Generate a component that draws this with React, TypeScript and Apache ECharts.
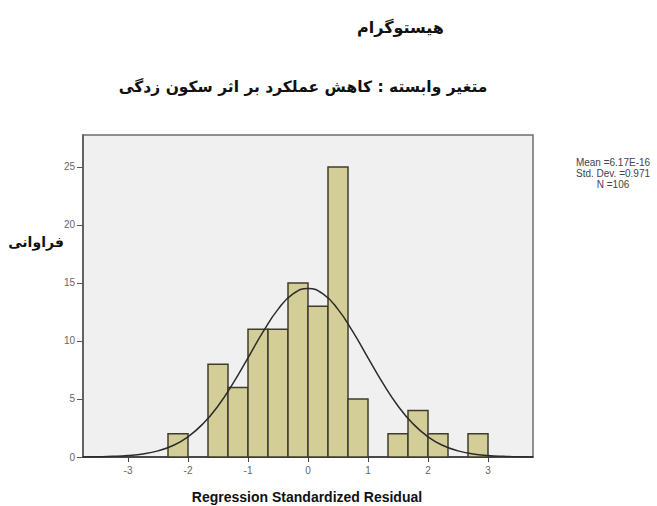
import React, { useEffect, useRef } from "react";
import * as echarts from "echarts";

const titleText = "هیستوگرام";
const subtitleText = "متغیر وابسته : کاهش عملکرد بر اثر سکون زدگی";
const yAxisName = "فراوانی";
const xAxisName = "Regression Standardized Residual";
const statsLines = ["Mean =6.17E-16", "Std. Dev. =0.971", "N =106"];

// histogram bins (lower edge) and counts
const binWidth = 1 / 3;
const binLow = [-7 / 3, -5 / 3, -4 / 3, -1, -2 / 3, -1 / 3, 0, 1 / 3, 2 / 3, 4 / 3, 5 / 3, 2, 8 / 3];
const counts = [2, 8, 6, 11, 11, 15, 13, 25, 5, 2, 4, 2, 2];

// normal curve
const curveX = [-3.75, -3.5, -3.25, -3, -2.75, -2.5, -2.25, -2, -1.75, -1.5, -1.25, -1, -0.75, -0.5, -0.25, 0, 0.25, 0.5, 0.75, 1, 1.25, 1.5, 1.75, 2, 2.25, 2.5, 2.75, 3, 3.25, 3.5, 3.75];
const curveY = [0.008, 0.022, 0.054, 0.123, 0.26, 0.53, 0.99, 1.74, 2.86, 4.4, 6.34, 8.54, 10.78, 12.72, 14.05, 14.52, 14.05, 12.72, 10.78, 8.54, 6.34, 4.4, 2.86, 1.74, 0.99, 0.53, 0.26, 0.123, 0.054, 0.022, 0.008];

const xTicks = [-3, -2, -1, 0, 1, 2, 3];
const yTicks = [0, 5, 10, 15, 20, 25];

export default function App() {
  const ref = useRef<HTMLDivElement>(null);
  useEffect(() => {
    if (!ref.current) return;
    const chart = echarts.init(ref.current, null, { renderer: "svg" });
    const barData = binLow.map((lo, i) => [lo, lo + binWidth, counts[i]]);
    const curveData = curveX.map((x, i) => [x, curveY[i]]);
    chart.setOption({
      animation: false,
      backgroundColor: "#ffffff",
      grid: {
        left: 83,
        right: 124,
        top: 135,
        bottom: 49,
        show: true,
        backgroundColor: "#f0f0f0",
        borderColor: "#6e6e6e",
        borderWidth: 1.5,
      },
      xAxis: {
        type: "value",
        min: -3.75,
        max: 3.75,
        splitLine: { show: false },
        axisLine: { show: true, onZero: false, lineStyle: { color: "#333", width: 1.5 } },
        axisTick: { show: true, length: 5, customValues: xTicks, lineStyle: { color: "#444" } },
        axisLabel: { customValues: xTicks, color: "#666", fontSize: 10, fontFamily: "Arial, 'Liberation Sans'", margin: 8 },
      },
      yAxis: {
        type: "value",
        min: 0,
        max: 27.75,
        splitLine: { show: false },
        axisLine: { show: true, onZero: false, lineStyle: { color: "#555", width: 1.5 } },
        axisTick: { show: true, length: 6, customValues: yTicks, lineStyle: { color: "#555" } },
        axisLabel: { customValues: yTicks, color: "#666", fontSize: 10, fontFamily: "Arial, 'Liberation Sans'", margin: 8 },
      },
      series: [
        {
          type: "custom",
          data: barData,
          encode: { x: [0, 1], y: 2 },
          renderItem: (params: any, api: any) => {
            const p0 = api.coord([api.value(0), 0]);
            const p1 = api.coord([api.value(1), api.value(2)]);
            return {
              type: "rect",
              shape: { x: p0[0], y: p1[1], width: p1[0] - p0[0], height: p0[1] - p1[1] },
              style: { fill: "#d3cd97", stroke: "#3e3d2c", lineWidth: 1.5 },
            };
          },
          z: 2,
        },
        {
          type: "line",
          data: curveData,
          smooth: true,
          showSymbol: false,
          lineStyle: { color: "#2b2b2b", width: 1.5 },
          z: 3,
        },
      ],
      graphic: [
        {
          type: "text",
          left: 357,
          top: 19,
          style: { text: titleText, font: "bold 16px 'DejaVu Sans'", fill: "#111" },
        },
        {
          type: "text",
          x: 303,
          y: 87,
          style: { text: subtitleText, font: "bold 15.5px 'DejaVu Sans'", fill: "#111", align: "center", verticalAlign: "middle" },
        },
        {
          type: "text",
          x: 36,
          y: 242,
          style: { text: yAxisName, font: "bold 14px 'DejaVu Sans'", fill: "#111", align: "center", verticalAlign: "middle" },
        },
        {
          type: "text",
          x: 307,
          y: 497,
          style: { text: xAxisName, font: "bold 14px Arial, 'Liberation Sans'", fill: "#111", align: "center", verticalAlign: "middle" },
        },
        ...statsLines.map((t, i) => ({
          type: "text",
          x: 613,
          y: 162 + i * 11,
          style: { text: t, font: "10px Arial, 'Liberation Sans'", fill: "#444", align: "center", verticalAlign: "middle" },
        })),
      ],
    });
    return () => chart.dispose();
  }, []);
  return <div ref={ref} style={{ width: 657, height: 506, position: "absolute", left: 0, top: 0 }} />;
}
